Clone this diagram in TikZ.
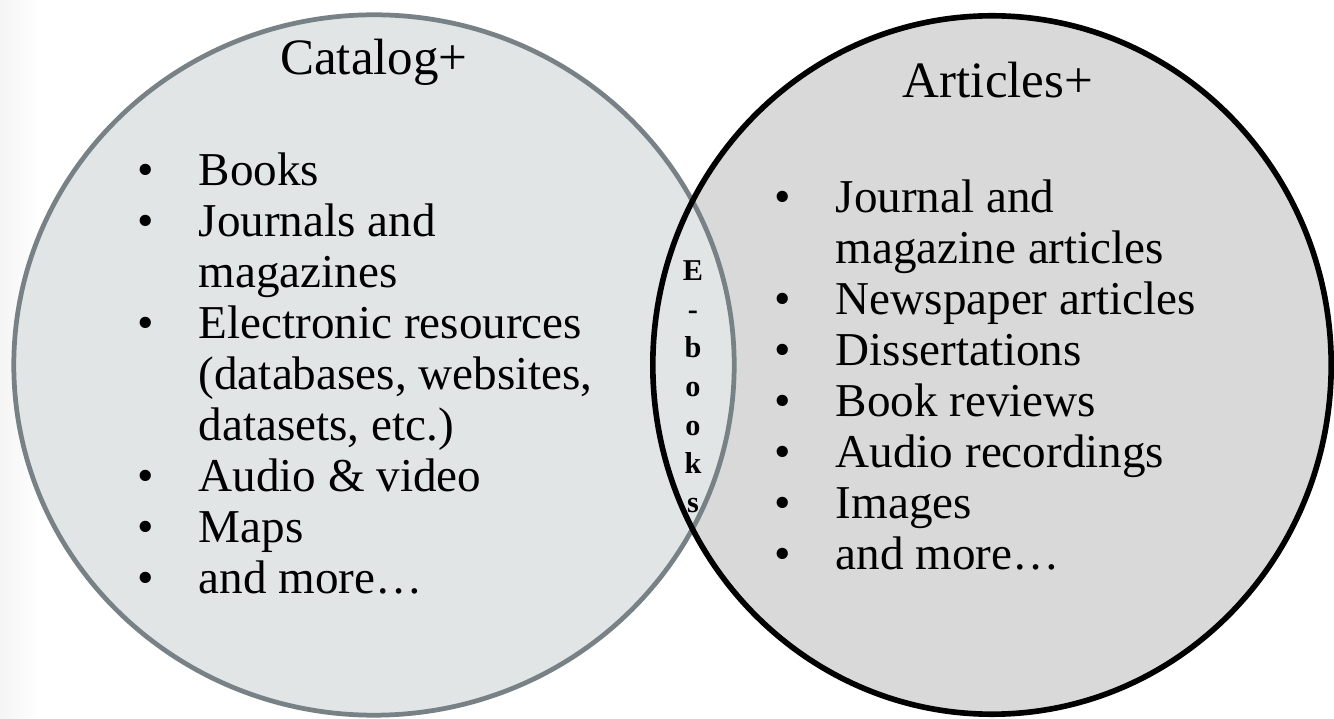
\documentclass[tikz,border=0pt]{standalone}
\usepackage{fontspec}
\setmainfont{Liberation Serif}
\usetikzlibrary{positioning}

\definecolor{catfill}{RGB}{225,229,230}
\definecolor{catline}{RGB}{120,130,134}
\definecolor{artfill}{RGB}{217,217,217}

\newcommand{\bitem}{\makebox[0.53cm][l]{\makebox[0pt]{\textbullet}}}
\newcommand{\cont}{\hspace*{0.53cm}}

\begin{document}
\begin{tikzpicture}[x=0.01cm, y=-0.01cm,
  catset/.style={draw=catline, line width=1.35pt},
  artset/.style={draw=black, line width=1.6pt},
  heading/.style={font=\fontsize{14.5}{17}\selectfont, inner sep=0pt, anchor=base},
  listtext/.style={font=\fontsize{13.4}{14.5}\selectfont, align=left, inner sep=0pt, anchor=north west},
  ebook/.style={font=\bfseries\fontsize{8.6}{11}\selectfont, align=center, inner sep=0pt, anchor=north}
]
\useasboundingbox (0,0) rectangle (1334,719);
\fill[white] (0,0) rectangle (1334,719);
\shade[left color=black!4, right color=white] (0,0) rectangle (40,719);

\coordinate (cat) at (374,365);
\coordinate (art) at (992,365);

% fills first, outlines on top
\fill[artfill] (art) ellipse [x radius=3.39cm, y radius=3.49cm];
\fill[catfill] (cat) ellipse [x radius=3.6cm, y radius=3.5cm];
\path[catset] (cat) ellipse [x radius=3.6cm, y radius=3.5cm];
\path[artset] (art) ellipse [x radius=3.39cm, y radius=3.49cm];

\node[heading] (cattitle) at (374,75) {Catalog+};
\node[heading] (arttitle) at (998,98) {Articles+};

\node[listtext] (catlist) at (145,152) {\bitem Books\\
  \bitem Journals and\\
  \cont magazines\\
  \bitem Electronic resources\\
  \cont (databases, websites,\\
  \cont datasets, etc.)\\
  \bitem Audio \& video\\
  \bitem Maps\\
  \bitem and more…};

\node[listtext] (artlist) at (782,179) {\bitem Journal and\\
  \cont magazine articles\\
  \bitem Newspaper articles\\
  \bitem Dissertations\\
  \bitem Book reviews\\
  \bitem Audio recordings\\
  \bitem Images\\
  \bitem and more…};

\node[ebook] (ebooks) at (693,260) {E\\-\\b\\o\\o\\k\\s};
\end{tikzpicture}
\end{document}
